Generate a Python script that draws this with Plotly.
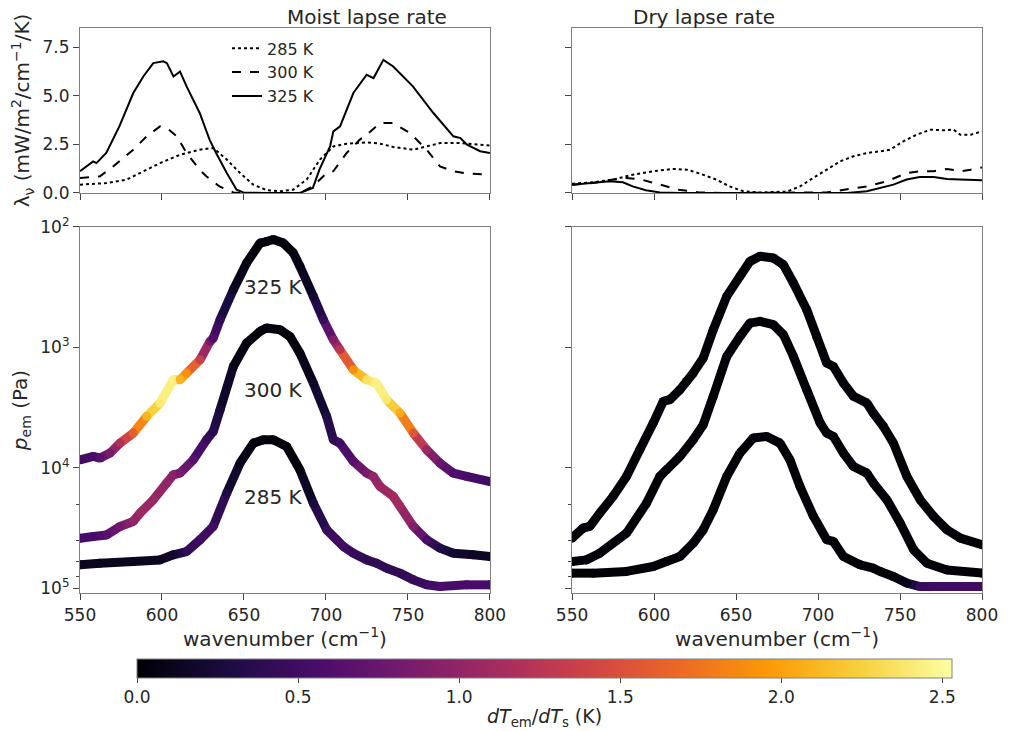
import plotly.graph_objects as go
from plotly.subplots import make_subplots
from plotly.colors import sample_colorscale
import math

# ---------------- data: spectral feedback lambda_nu (mW/m2/cm-1/K) ----------------
moist_wn_325 = [550, 554, 558, 560, 566, 574, 582.5, 588.6, 594.7, 600.8, 603, 607, 611, 615, 623, 629, 633, 639.5, 645.5, 649.6, 664, 684, 692, 696, 702.5, 704.5, 708.6, 716.7, 724.8, 729, 735, 741, 753, 765.5, 777.7, 782, 786, 794, 800]
moist_lam_325 = [1.12, 1.37, 1.63, 1.54, 2.06, 3.43, 5.15, 6.0, 6.69, 6.78, 6.69, 6.0, 6.26, 5.49, 4.12, 2.75, 2.06, 1.03, 0.17, 0.03, 0.0, 0.0, 0.26, 1.2, 2.4, 3.17, 3.43, 5.15, 6.09, 5.92, 6.86, 6.52, 5.49, 4.12, 2.92, 2.83, 2.49, 2.15, 2.06]
moist_wn_300 = [550, 562.2, 570.3, 582.5, 590.7, 598.8, 603, 609, 615, 623, 627, 635, 643.5, 653.6, 684, 692, 700.4, 704.5, 712.6, 720.7, 724.8, 733, 741, 751.2, 761.4, 769.5, 777.7, 786, 800]
moist_lam_300 = [0.77, 0.86, 1.37, 2.23, 2.92, 3.43, 3.35, 2.92, 2.06, 1.2, 0.86, 0.34, 0.03, 0.0, 0.0, 0.34, 1.03, 1.12, 2.06, 2.75, 3.0, 3.6, 3.6, 3.09, 2.23, 1.37, 1.12, 1.0, 0.94]
moist_wn_285 = [550, 566.3, 578.5, 590.7, 598.8, 611, 623, 631.3, 639.5, 647.6, 655.7, 664, 672, 680, 688.2, 696.3, 704.5, 712.6, 724.8, 733, 741, 753.3, 761.4, 769.5, 781.7, 794, 800]
moist_lam_285 = [0.43, 0.51, 0.69, 1.2, 1.54, 1.97, 2.23, 2.32, 1.72, 1.03, 0.43, 0.14, 0.09, 0.17, 0.69, 1.72, 2.4, 2.54, 2.61, 2.54, 2.37, 2.23, 2.4, 2.57, 2.57, 2.49, 2.44]

dry_wn_285 = [550, 562.8, 575, 587, 599.5, 611.7, 620, 628, 638, 646, 654.5, 664.6, 681, 689, 697, 705, 713.5, 721.6, 729.8, 738, 744, 752, 760, 768.5, 776.6, 782.7, 786.8, 793, 800]
dry_lam_285 = [0.48, 0.55, 0.69, 0.94, 1.12, 1.24, 1.2, 1.0, 0.69, 0.34, 0.09, 0.03, 0.07, 0.34, 0.77, 1.2, 1.63, 1.89, 2.06, 2.15, 2.23, 2.66, 3.0, 3.26, 3.23, 3.26, 3.0, 3.0, 3.17]
dry_wn_300 = [550, 562.8, 575, 583, 591, 603, 615, 627.6, 644, 705, 717.6, 729.8, 742, 754, 762, 770.6, 778.6, 786.8, 793, 800]
dry_lam_300 = [0.43, 0.51, 0.69, 0.77, 0.72, 0.43, 0.17, 0.03, 0.0, 0.03, 0.17, 0.34, 0.6, 1.03, 1.12, 1.12, 1.24, 1.12, 1.2, 1.32]
dry_wn_325 = [550, 562.8, 573, 581, 587, 595, 603.6, 615.8, 717.6, 729.8, 738, 746, 754, 762, 770.6, 778.6, 786.8, 800]
dry_lam_325 = [0.43, 0.51, 0.6, 0.55, 0.34, 0.14, 0.03, 0.0, 0.0, 0.09, 0.26, 0.43, 0.69, 0.82, 0.82, 0.72, 0.69, 0.65]

# ---------------- data: emission pressure (Pa) and dTem/dTs (K) ----------------
pm325_wn = [550, 558.1, 562.2, 568.3, 574.4, 582.5, 590.7, 598.8, 606.9, 611.0, 615.0, 623.2, 629.3, 631.3, 635.4, 643.5, 651.6, 659.8, 663.8, 667.9, 674.0, 680.1, 684.1, 692.3, 698.4, 704.5, 708.5, 716.7, 724.8, 730.9, 737.0, 745.1, 753.3, 761.4, 769.5, 777.6, 785.8, 800]
pm325_p = [8590, 8050, 8310, 7550, 6240, 5150, 3740, 2900, 1860, 1860, 1635, 1267, 892, 836, 589, 332, 199, 136, 132, 127, 136, 164, 212, 377, 589, 863, 1045, 1535, 1860, 1980, 2720, 3510, 5150, 7080, 9140, 11070, 11800, 13000]
pm325_c = [0.5, 0.55, 0.65, 0.85, 1.2, 1.6, 2.1, 2.4, 2.45, 2.1, 1.9, 1.35, 0.8, 0.6, 0.4, 0.15, 0.05, 0.03, 0.03, 0.03, 0.03, 0.05, 0.08, 0.2, 0.45, 0.9, 1.25, 1.9, 2.35, 2.45, 2.4, 2.05, 1.55, 1.05, 0.75, 0.6, 0.55, 0.5]

pm300_wn = [550, 558.1, 566.3, 574.4, 582.5, 586.6, 594.7, 602.8, 606.9, 611.0, 619.1, 627.2, 631.3, 635.4, 643.5, 651.6, 659.8, 663.8, 672.0, 678.0, 684.1, 692.3, 700.4, 704.5, 708.5, 716.7, 724.8, 728.9, 732.9, 741.1, 745.1, 753.3, 761.4, 769.5, 777.6, 789.8, 800]
pm300_p = [38500, 37200, 36100, 30700, 27900, 23800, 18450, 13400, 11430, 11070, 8590, 5850, 4990, 3300, 1440, 920, 736, 690, 713, 811, 1115, 1980, 3740, 5850, 6240, 8860, 11070, 11800, 14300, 17300, 20900, 30700, 39600, 46500, 51200, 52800, 54600]
pm300_c = [0.55, 0.55, 0.65, 0.8, 1.0, 1.05, 1.05, 1.0, 0.95, 0.85, 0.65, 0.45, 0.35, 0.25, 0.1, 0.03, 0.03, 0.03, 0.03, 0.03, 0.05, 0.15, 0.3, 0.4, 0.5, 0.65, 0.85, 1.0, 1.05, 1.1, 1.1, 0.9, 0.55, 0.3, 0.2, 0.15, 0.15]

pm285_wn = [550, 562.2, 582.5, 598.8, 606.9, 615.0, 623.2, 631.3, 639.4, 647.6, 655.7, 661.8, 667.9, 676.0, 684.1, 692.3, 700.4, 706.5, 710.6, 716.7, 724.8, 730.9, 737.0, 745.1, 753.3, 761.4, 769.5, 785.8, 800]
pm285_p = [64000, 62000, 60000, 58200, 52800, 49600, 39600, 30700, 16300, 9140, 6240, 5850, 5850, 6650, 10400, 19700, 32700, 39600, 45000, 51200, 58200, 62000, 68200, 75000, 85300, 93800, 96900, 93800, 93800]
pm285_c = [0.12, 0.12, 0.12, 0.14, 0.2, 0.4, 0.5, 0.5, 0.3, 0.1, 0.03, 0.03, 0.03, 0.03, 0.05, 0.25, 0.45, 0.5, 0.5, 0.45, 0.4, 0.4, 0.4, 0.4, 0.45, 0.5, 0.55, 0.55, 0.55]

pd325_wn = [550, 556.7, 560.8, 566.9, 575.0, 583.2, 591.3, 599.5, 605.6, 609.6, 615.8, 619.8, 623.9, 630.0, 636.1, 644.3, 652.4, 658.5, 664.6, 672.8, 678.9, 685.0, 693.1, 699.2, 705.3, 709.4, 715.5, 721.6, 729.8, 733.8, 739.9, 746.0, 754.2, 762.3, 770.5, 778.6, 786.8, 800]
pd325_p = [38400, 31700, 30700, 23800, 17300, 11800, 7080, 4250, 2810, 2720, 2250, 1920, 1635, 1227, 713, 377, 257, 193, 175, 181, 206, 292, 486, 811, 1350, 1440, 1980, 2550, 2900, 3520, 4540, 6240, 11800, 18450, 25300, 32700, 38400, 43600]
pd325_c = [0.02] * 38

pd300_wn = [550, 558.8, 566.9, 583.2, 595.4, 603.5, 607.6, 615.8, 623.9, 630.0, 636.1, 644.3, 652.4, 658.5, 664.6, 672.8, 678.9, 685.0, 693.1, 701.3, 705.3, 709.4, 715.5, 721.6, 729.8, 733.8, 742.0, 750.1, 758.3, 766.4, 778.6, 800]
pd300_p = [60000, 58200, 51200, 34900, 19700, 11800, 10400, 8050, 5850, 4400, 2550, 1190, 811, 628, 608, 648, 785, 1190, 2250, 4250, 5150, 5500, 7550, 9750, 11070, 13400, 18450, 28800, 48000, 62000, 70500, 75000]
pd300_c = [0.02] * 32

pd285_wn = [550, 562.8, 583.2, 599.5, 607.6, 615.8, 623.9, 630.0, 636.1, 644.3, 652.4, 660.5, 668.7, 676.8, 682.9, 689.0, 697.2, 705.3, 709.4, 715.5, 725.7, 733.8, 737.9, 746.0, 754.2, 762.3, 770, 800]
pd285_p = [75000, 75000, 72600, 66100, 60000, 54600, 42300, 32700, 22300, 11800, 7550, 5660, 5500, 6240, 8590, 14300, 25300, 39600, 40900, 54600, 64000, 68200, 72600, 80000, 90800, 96900, 96900, 96900]
pd285_c = [0.02] * 24 + [0.1, 0.45, 0.5, 0.5]

# marker pressures (grey triangles)
moist_marks = [1700, 12700, 22500]
dry_marks = [19700, 23400, 27800]

curve_labels = ["325 K", "300 K", "285 K"]
curve_label_p = [316, 2260, 17500]

CMAX = 2.53
TXT = "#262626"
SPINE = "#808080"
FONT = "DejaVu Sans"

fig = make_subplots(rows=2, cols=2, horizontal_spacing=0.091, vertical_spacing=0.06,
                    row_heights=[0.3, 0.7], shared_xaxes=False)

# ---------------- top row ----------------
styles = [("285 K", "dot"), ("300 K", "dash"), ("325 K", "solid")]
moist_top = [(moist_wn_285, moist_lam_285), (moist_wn_300, moist_lam_300), (moist_wn_325, moist_lam_325)]
dry_top = [(dry_wn_285, dry_lam_285), (dry_wn_300, dry_lam_300), (dry_wn_325, dry_lam_325)]
for (name, dash), (wx, ly) in zip(styles, moist_top):
    fig.add_trace(go.Scatter(x=wx, y=ly, mode="lines", name=name,
                             line=dict(color="black", width=2, dash=dash), showlegend=True), row=1, col=1)
for (name, dash), (wx, ly) in zip(styles, dry_top):
    fig.add_trace(go.Scatter(x=wx, y=ly, mode="lines", name=name,
                             line=dict(color="black", width=2, dash=dash), showlegend=False), row=1, col=2)

# ---------------- bottom row: colored thick curves ----------------
def add_colored(wn, p, c, col, showscale=False):
    for i in range(len(wn) - 1):
        cm = 0.5 * (c[i] + c[i + 1]) / CMAX
        colr = sample_colorscale("Inferno", [min(max(cm, 0), 1)])[0]
        fig.add_trace(go.Scatter(x=[wn[i], wn[i + 1]], y=[p[i], p[i + 1]], mode="lines",
                                 line=dict(color=colr, width=9), showlegend=False,
                                 hoverinfo="skip"), row=2, col=col)
    fig.add_trace(go.Scatter(x=wn, y=p, mode="markers", showlegend=False,
                             marker=dict(size=9, color=c, colorscale="Inferno", cmin=0, cmax=CMAX,
                                         line=dict(width=0), showscale=showscale,
                                         colorbar=dict(orientation="h", x=0.515, xanchor="center",
                                                       len=0.9035, lenmode="fraction", thickness=19,
                                                       y=-0.117, yanchor="top", ypad=0, xpad=0,
                                                       outlinecolor=SPINE, outlinewidth=1,
                                                       ticks="outside", ticklen=5, tickcolor="#444",
                                                       tick0=0, dtick=0.5, tickformat=".1f",
                                                       tickfont=dict(size=17, color=TXT, family=FONT))),
                             ), row=2, col=col)

add_colored(pm325_wn, pm325_p, pm325_c, 1, showscale=True)
add_colored(pm300_wn, pm300_p, pm300_c, 1)
add_colored(pm285_wn, pm285_p, pm285_c, 1)
add_colored(pd325_wn, pd325_p, pd325_c, 2)
add_colored(pd300_wn, pd300_p, pd300_c, 2)
add_colored(pd285_wn, pd285_p, pd285_c, 2)

for col, marks in ((1, moist_marks), (2, dry_marks)):
    fig.add_trace(go.Scatter(x=[805] * len(marks), y=marks, mode="markers", showlegend=False,
                             cliponaxis=False,
                             marker=dict(symbol="triangle-left", size=16, color="#7f7f7f", line=dict(width=0))),
                  row=2, col=col)

# ---------------- axes ----------------
common = dict(showline=True, linecolor=SPINE, linewidth=1.2, mirror=True, showgrid=False, zeroline=False,
              ticks="outside", ticklen=6, tickwidth=1.2, tickcolor="#444", automargin=False,
              tickfont=dict(size=17, color=TXT, family=FONT))
xt = [550, 600, 650, 700, 750, 800]
for r in (1, 2):
    for c in (1, 2):
        fig.update_xaxes(range=[550, 800], tickvals=xt, showticklabels=(r == 2), row=r, col=c, **common)
        if r == 2:
            fig.update_xaxes(title=dict(text="wavenumber (cm<sup>−1</sup>)", font=dict(size=20, color=TXT, family=FONT),
                                        standoff=2), row=r, col=c)
for c in (1, 2):
    fig.update_yaxes(range=[0, 8.5], tickvals=[0, 2.5, 5.0, 7.5], ticktext=["0.0", "2.5", "5.0", "7.5"],
                     showticklabels=(c == 1), row=1, col=c, **common)
    fig.update_yaxes(type="log", range=[5.04, 2], tickvals=[1e2, 1e3, 1e4, 1e5],
                     ticktext=["10<sup>2</sup>", "10<sup>3</sup>", "10<sup>4</sup>", "10<sup>5</sup>"],
                     showticklabels=(c == 1),
                     minor=dict(ticks="outside", ticklen=3, tickcolor="#444", tickwidth=1, showgrid=False),
                     row=2, col=c, **common)
fig.update_yaxes(title=dict(text="λ<sub>ν</sub> (mW/m<sup>2</sup>/cm<sup>−1</sup>/K)",
                            font=dict(size=20, color=TXT, family=FONT)), row=1, col=1)
fig.update_yaxes(title=dict(text="<i>p</i><sub>em</sub> (Pa)",
                            font=dict(size=20, color=TXT, family=FONT)), row=2, col=1)

# fix domains to match reference
fig.update_layout(
    xaxis=dict(domain=[0, 0.4545]), xaxis2=dict(domain=[0.5455, 1]),
    xaxis3=dict(domain=[0, 0.4545]), xaxis4=dict(domain=[0.5455, 1]),
    yaxis=dict(domain=[0.708, 1]), yaxis2=dict(domain=[0.708, 1]),
    yaxis3=dict(domain=[0, 0.6478]), yaxis4=dict(domain=[0, 0.6478]),
)

# titles and curve labels
fig.add_annotation(text="Moist lapse rate", xref="paper", yref="paper", x=0.2273, y=1, yanchor="bottom",
                   yshift=-3, showarrow=False, font=dict(size=20, color=TXT, family=FONT))
fig.add_annotation(text="Dry lapse rate", xref="paper", yref="paper", x=0.7727, y=1, yanchor="bottom",
                   yshift=-3, showarrow=False, font=dict(size=20, color=TXT, family=FONT))
fig.add_annotation(text="<i>dT</i><sub>em</sub>/<i>dT</i><sub>s</sub> (K)", xref="paper", yref="paper",
                   x=0.515, y=-0.221, yanchor="middle", showarrow=False,
                   font=dict(size=19, color=TXT, family=FONT))
for lab, pl in zip(curve_labels, curve_label_p):
    fig.add_annotation(text=lab, x=667.7, y=math.log10(pl), xref="x3", yref="y3", showarrow=False,
                       font=dict(size=20, color=TXT, family=FONT))

fig.update_layout(
    width=1014, height=731, margin=dict(l=72, r=40, t=20, b=146, autoexpand=False),
    paper_bgcolor="white", plot_bgcolor="white",
    font=dict(family=FONT, color=TXT),
    legend=dict(x=0.163, y=0.994, xanchor="left", yanchor="top", bgcolor="rgba(0,0,0,0)",
                font=dict(size=16, color=TXT, family=FONT), tracegroupgap=0, itemwidth=30),
)

fig.write_html("out.html")
